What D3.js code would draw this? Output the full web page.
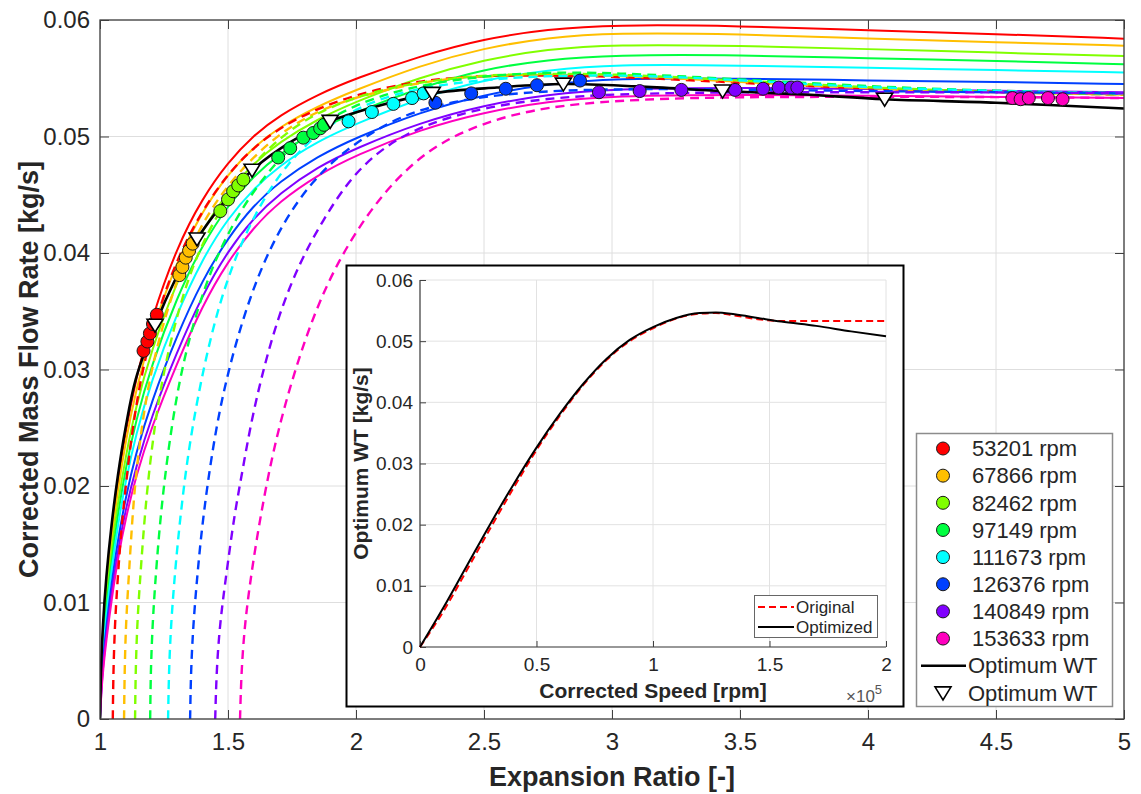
<!DOCTYPE html>
<html><head><meta charset="utf-8">
<script src="https://cdn.jsdelivr.net/npm/d3@7"></script>
<style>
html,body{margin:0;padding:0;background:#fff;}
svg{display:block;font-family:"Liberation Sans",Arial,Helvetica,sans-serif;}
</style>
</head><body>
<svg id="chart" width="1141" height="794"></svg>
<script>
// ---------------- DATA ----------------
const speedLabels = ["53201 rpm","67866 rpm","82462 rpm","97149 rpm","111673 rpm","126376 rpm","140849 rpm","153633 rpm"];

// fitted (solid) curves on a shared expansion-ratio grid
const fitX = [1,1.005,1.012,1.025,1.045,1.07,1.1,1.14,1.2,1.3,1.4,1.5,1.6,1.7,1.85,2,2.25,2.5,2.75,3,3.5,4,4.5,5];
const fit53201  = [0,.0045,.0078,.0118,.0162,.0205,.0247,.0292,.0343,.0405,.0447,.0478,.0501,.0518,.0536,.0550,.0569,.0584,.0592,.0596,.0595,.0591,.0588,.0584];
const fit67866  = [0,.0042,.0074,.0112,.0155,.0197,.0238,.0282,.0332,.0393,.0436,.0468,.0491,.0508,.0526,.0540,.0561,.0576,.0585,.0589,.0588,.0584,.0581,.0578];
const fit82462  = [0,.0038,.0068,.0104,.0145,.0186,.0225,.0268,.0316,.0376,.0420,.0453,.0477,.0495,.0515,.0530,.0551,.0566,.0575,.0579,.0578,.0575,.0572,.0569];
const fit97149  = [0,.0035,.0062,.0097,.0136,.0176,.0215,.0256,.0303,.0362,.0407,.0441,.0466,.0485,.0506,.0521,.0542,.0558,.0566,.0570,.0570,.0567,.0565,.0562];
const fit111673 = [0,.0032,.0058,.0090,.0128,.0167,.0204,.0244,.0290,.0348,.0395,.0430,.0455,.0475,.0496,.0511,.0533,.0549,.0557,.0562,.0561,.0559,.0557,.0555];
const fit126376 = [0,.0028,.0051,.0080,.0116,.0154,.0190,.0228,.0272,.0329,.0377,.0413,.0441,.0461,.0483,.0499,.0521,.0536,.0545,.0550,.0550,.0548,.0547,.0545];
const fit140849 = [0,.0024,.0046,.0073,.0108,.0145,.0180,.0216,.0259,.0315,.0364,.0402,.0430,.0451,.0474,.0490,.0512,.0527,.0536,.0541,.0542,.0541,.0539,.0538];
const fit153633 = [0,.0022,.0042,.0068,.0102,.0138,.0172,.0208,.0250,.0305,.0355,.0393,.0422,.0444,.0467,.0484,.0506,.0521,.0530,.0535,.0536,.0535,.0534,.0533];

// original (dashed) curves [expansion ratio, mass flow]
const orig53201 = [[1.05,0],[1.052,.004],[1.058,.008],[1.066,.011],[1.08,.0155],[1.1,.02],[1.13,.0255],[1.17,.0305],[1.22,.0345],[1.3,.0395],[1.4,.0437],[1.5,.0468],[1.6,.0491],[1.75,.0515],[2,.0537],[2.25,.0548],[2.5,.0553],[3,.0552],[3.5,.0546],[4,.0541],[4.5,.0538],[5,.0536]];
const orig67866 = [[1.094,0],[1.096,.004],[1.101,.008],[1.109,.011],[1.12,.015],[1.135,.02],[1.165,.0255],[1.2,.03],[1.26,.035],[1.33,.0395],[1.43,.0438],[1.55,.0472],[1.7,.0503],[1.85,.0522],[2,.0534],[2.25,.0547],[2.5,.0553],[3,.0553],[3.5,.0547],[4,.0541],[4.5,.0538],[5,.0536]];
const orig82462 = [[1.137,0],[1.139,.004],[1.145,.008],[1.155,.0115],[1.168,.0155],[1.185,.02],[1.215,.0255],[1.25,.03],[1.31,.0355],[1.38,.04],[1.48,.0442],[1.6,.0478],[1.75,.0508],[1.9,.0526],[2.1,.0541],[2.35,.055],[2.6,.0554],[3,.0554],[3.5,.0548],[4,.0542],[4.5,.0538],[5,.0536]];
const orig97149 = [[1.196,0],[1.198,.004],[1.205,.008],[1.215,.0115],[1.23,.0158],[1.25,.0202],[1.28,.0252],[1.32,.0302],[1.38,.0352],[1.45,.0395],[1.55,.0438],[1.68,.0477],[1.82,.0506],[2,.0528],[2.2,.0542],[2.45,.0551],[2.7,.0555],[3,.0555],[3.5,.0549],[4,.0543],[4.5,.0539],[5,.0537]];
const orig111673 = [[1.266,0],[1.269,.004],[1.277,.008],[1.29,.0118],[1.305,.0155],[1.33,.0205],[1.36,.025],[1.405,.0302],[1.46,.0352],[1.53,.0398],[1.62,.044],[1.73,.0477],[1.87,.0507],[2.05,.053],[2.25,.0542],[2.5,.0549],[2.8,.0553],[3.2,.0552],[3.6,.0547],[4,.0542],[4.5,.0539],[5,.0537]];
const orig126376 = [[1.352,0],[1.355,.004],[1.364,.008],[1.378,.0118],[1.395,.0158],[1.42,.0202],[1.455,.0252],[1.5,.0298],[1.56,.0345],[1.63,.0388],[1.72,.0428],[1.83,.0462],[1.95,.0487],[2.1,.0509],[2.25,.0524],[2.5,.0535],[2.8,.054],[3.2,.0541],[3.6,.054],[4,.0539],[4.5,.0538],[5,.0537]];
const orig140849 = [[1.45,0],[1.455,.004],[1.466,.0075],[1.48,.0102],[1.5,.0135],[1.525,.0175],[1.55,.0205],[1.59,.0255],[1.64,.0302],[1.7,.0348],[1.78,.0392],[1.87,.0428],[1.97,.0462],[2.08,.0486],[2.2,.0503],[2.35,.0516],[2.55,.0527],[2.8,.0534],[3.1,.0537],[3.5,.0538],[4,.0538],[4.5,.0538],[5,.0537]];
const orig153633 = [[1.547,0],[1.552,.004],[1.565,.008],[1.585,.0115],[1.61,.0152],[1.65,.0202],[1.7,.0252],[1.765,.0302],[1.84,.035],[1.93,.0393],[2.04,.0432],[2.15,.0462],[2.27,.0486],[2.41,.0504],[2.59,.0518],[2.8,.0527],[3.1,.0532],[3.5,.0534],[4,.0534],[4.5,.0534],[5,.0533]];

// measured points
const pts53201  = [[1.17,.0316],[1.185,.0324],[1.195,.0331],[1.207,.0339],[1.222,.0347]];
const pts67866  = [[1.31,.0381],[1.322,.0388],[1.335,.0396],[1.348,.0402],[1.362,.0408]];
const pts82462  = [[1.47,.0436],[1.5,.0446],[1.52,.0453],[1.54,.0458],[1.56,.0463]];
const pts97149  = [[1.696,.0482],[1.743,.0490],[1.794,.0499],[1.833,.0503],[1.86,.0507],[1.875,.0510]];
const pts111673 = [[1.971,.0513],[2.062,.0521],[2.146,.0528],[2.219,.0533],[2.264,.0537]];
const pts126376 = [[2.31,.0529],[2.45,.0537],[2.585,.0541],[2.707,.0544],[2.875,.0548]];
const pts140849 = [[2.949,.0538],[3.108,.0539],[3.271,.0540],[3.481,.0540],[3.59,.0541],[3.651,.0542],[3.70,.0542],[3.724,.0542]];
const pts153633 = [[4.564,.0533],[4.596,.0532],[4.628,.0533],[4.703,.0533],[4.76,.0532]];

// optimum WT line and markers
const optimumLine = [[1,0],[1.005,.0048],[1.012,.0082],[1.025,.0122],[1.045,.0166],[1.07,.0209],[1.1,.0250],[1.14,.0292],[1.215,.0338],[1.3,.0380],[1.379,.0412],[1.5,.0448],[1.594,.0471],[1.75,.0496],[1.899,.0513],[2.1,.0527],[2.298,.0537],[2.55,.0542],[2.81,.0545],[3.1,.0543],[3.432,.0539],[3.75,.0536],[4.065,.0532],[4.5,.0529],[5,.0524]];
const optimumMarkers = [[1.215,.0338],[1.379,.0412],[1.594,.0471],[1.899,.0513],[2.298,.0537],[2.81,.0545],[3.432,.0539],[4.065,.0532]];

// inset: optimum WT vs corrected speed (x in 1e5 rpm)
const insetOriginal  = [[0,0],[0.1,.0058],[0.2,.0125],[0.3,.0193],[0.4,.0259],[0.5,.0322],[0.6,.0378],[0.7,.0428],[0.8,.0469],[0.9,.0500],[1.0,.0521],[1.1,.0537],[1.2,.0545],[1.27,.0546],[1.35,.0542],[1.45,.0536],[1.55,.0533],[1.65,.0533],[2.0,.0533]];
const insetOptimized = [[0,0],[0.1,.0064],[0.2,.0132],[0.3,.0200],[0.4,.0265],[0.5,.0326],[0.6,.0381],[0.7,.0430],[0.8,.0471],[0.9,.0502],[1.0,.0523],[1.1,.0538],[1.2,.0546],[1.27,.0547],[1.35,.0544],[1.45,.0538],[1.55,.0532],[1.7,.0525],[1.85,.0516],[2.0,.0508]];

// ticks
const xTicks = [1,1.5,2,2.5,3,3.5,4,4.5,5];
const xTickLabels = ["1","1.5","2","2.5","3","3.5","4","4.5","5"];
const yTicks = [0,0.01,0.02,0.03,0.04,0.05,0.06];
const yTickLabels = ["0","0.01","0.02","0.03","0.04","0.05","0.06"];
const ixTicks = [0,0.5,1,1.5,2];
const ixTickLabels = ["0","0.5","1","1.5","2"];

// styles
const colors = ["#ff0000","#ffbf00","#80ff00","#00ff40","#00ffff","#0040ff","#8000ff","#ff00bf"];

// ---------------- DRAW ----------------
const fits = [fit53201,fit67866,fit82462,fit97149,fit111673,fit126376,fit140849,fit153633];
const origs = [orig53201,orig67866,orig82462,orig97149,orig111673,orig126376,orig140849,orig153633];
const pts = [pts53201,pts67866,pts82462,pts97149,pts111673,pts126376,pts140849,pts153633];

const svg = d3.select("#chart");
const TXT = "#262626";
const L=100,T=20,R=1124,B=719;
const x = d3.scaleLinear().domain([1,5]).range([L,R]);
const y = d3.scaleLinear().domain([0,0.06]).range([B,T]);

svg.append("rect").attr("width",1141).attr("height",794).attr("fill","#fff");
svg.append("defs").append("clipPath").attr("id","clipMain")
  .append("rect").attr("x",L).attr("y",T).attr("width",R-L).attr("height",B-T);

// grid
const grid = svg.append("g").attr("stroke","#dedede").attr("stroke-width",1);
xTicks.forEach(t=>grid.append("line").attr("x1",x(t)).attr("x2",x(t)).attr("y1",T).attr("y2",B));
yTicks.forEach(t=>grid.append("line").attr("x1",L).attr("x2",R).attr("y1",y(t)).attr("y2",y(t)));

function styleAxis(g,fs){
  g.select(".domain").remove();
  g.selectAll(".tick line").attr("stroke","#404040").attr("stroke-width",1);
  g.selectAll(".tick text").attr("fill",TXT).attr("font-size",fs).attr("font-family",'"Liberation Sans",Arial,sans-serif');
}
styleAxis(svg.append("g").attr("transform",`translate(0,${B})`)
  .call(d3.axisBottom(x).tickValues(xTicks).tickFormat((d,i)=>xTickLabels[i]).tickSize(-9).tickPadding(14)),24);
styleAxis(svg.append("g").attr("transform",`translate(0,${T})`)
  .call(d3.axisTop(x).tickValues(xTicks).tickFormat("").tickSize(-9)),24);
styleAxis(svg.append("g").attr("transform",`translate(${L},0)`)
  .call(d3.axisLeft(y).tickValues(yTicks).tickFormat((d,i)=>yTickLabels[i]).tickSize(-9).tickPadding(10)),24);
styleAxis(svg.append("g").attr("transform",`translate(${R},0)`)
  .call(d3.axisRight(y).tickValues(yTicks).tickFormat("").tickSize(-9)),24);

const plot = svg.append("g").attr("clip-path","url(#clipMain)");
const lineSmooth = d3.line().x(d=>x(d[0])).y(d=>y(d[1])).curve(d3.curveBasis);
const lineThrough = d3.line().x(d=>x(d[0])).y(d=>y(d[1])).curve(d3.curveCatmullRom.alpha(0.5));

// solid fits
fits.forEach((arr,i)=>{
  const data = fitX.map((v,k)=>[v,arr[k]]);
  plot.append("path").attr("d",lineSmooth(data)).attr("fill","none")
    .attr("stroke",colors[i]).attr("stroke-width",2);
});
// dashed originals
origs.forEach((arr,i)=>{
  plot.append("path").attr("d",lineSmooth(arr)).attr("fill","none")
    .attr("stroke",colors[i]).attr("stroke-width",2.4).attr("stroke-dasharray","9,6");
});
// optimum line
plot.append("path").attr("d",lineThrough(optimumLine)).attr("fill","none")
  .attr("stroke","#000").attr("stroke-width",2.6);
// points
pts.forEach((arr,i)=>{
  plot.selectAll(null).data(arr).enter().append("circle")
    .attr("cx",d=>x(d[0])).attr("cy",d=>y(d[1])).attr("r",6.5)
    .attr("fill",colors[i]).attr("stroke","#1a1a1a").attr("stroke-width",1);
});
const triPath = "M-8,-6L8,-6L0,7Z";
plot.selectAll(null).data(optimumMarkers).enter().append("path")
  .attr("d",triPath).attr("transform",d=>`translate(${x(d[0])},${y(d[1])})`)
  .attr("fill","#fff").attr("stroke","#000").attr("stroke-width",1.6);

// box
svg.append("rect").attr("x",L).attr("y",T).attr("width",R-L).attr("height",B-T)
  .attr("fill","none").attr("stroke","#404040").attr("stroke-width",1.3);

// axis titles
svg.append("text").attr("x",(L+R)/2).attr("y",786).attr("text-anchor","middle")
  .attr("font-size",27).attr("font-weight","bold").attr("fill",TXT).text("Expansion Ratio [-]");
svg.append("text").attr("transform",`translate(38,${(T+B)/2}) rotate(-90)`).attr("text-anchor","middle")
  .attr("font-size",27).attr("font-weight","bold").attr("fill",TXT).text("Corrected Mass Flow Rate [kg/s]");

// ---------------- INSET ----------------
svg.append("rect").attr("x",346.5).attr("y",265.5).attr("width",557).attr("height",441)
  .attr("fill","#fff").attr("stroke","#000").attr("stroke-width",2);
const iL=420,iR=886,iT=280,iB=647;
const ix = d3.scaleLinear().domain([0,2]).range([iL,iR]);
const iy = d3.scaleLinear().domain([0,0.06]).range([iB,iT]);
const ig = svg.append("g").attr("stroke","#e2e2e2").attr("stroke-width",1);
ixTicks.forEach(t=>ig.append("line").attr("x1",ix(t)).attr("x2",ix(t)).attr("y1",iT).attr("y2",iB));
yTicks.forEach(t=>ig.append("line").attr("x1",iL).attr("x2",iR).attr("y1",iy(t)).attr("y2",iy(t)));
styleAxis(svg.append("g").attr("transform",`translate(0,${iB})`)
  .call(d3.axisBottom(ix).tickValues(ixTicks).tickFormat((d,i)=>ixTickLabels[i]).tickSize(-6).tickPadding(11)),19);
styleAxis(svg.append("g").attr("transform",`translate(${iL},0)`)
  .call(d3.axisLeft(iy).tickValues(yTicks).tickFormat((d,i)=>yTickLabels[i]).tickSize(-6).tickPadding(7)),19);
svg.append("line").attr("x1",iL).attr("x2",iR).attr("y1",iB).attr("y2",iB).attr("stroke","#404040").attr("stroke-width",1.2);
svg.append("line").attr("x1",iL).attr("x2",iL).attr("y1",iT).attr("y2",iB).attr("stroke","#404040").attr("stroke-width",1.2);

const iline = d3.line().x(d=>ix(d[0])).y(d=>iy(d[1])).curve(d3.curveMonotoneX);
svg.append("path").attr("d",iline(insetOriginal)).attr("fill","none")
  .attr("stroke","#ff0000").attr("stroke-width",2).attr("stroke-dasharray","7,4");
svg.append("path").attr("d",iline(insetOptimized)).attr("fill","none")
  .attr("stroke","#000").attr("stroke-width",2);

svg.append("text").attr("x",(iL+iR)/2).attr("y",698).attr("text-anchor","middle")
  .attr("font-size",21).attr("font-weight","bold").attr("fill",TXT).text("Corrected Speed [rpm]");
svg.append("text").attr("transform",`translate(368,${(iT+iB)/2}) rotate(-90)`).attr("text-anchor","middle")
  .attr("font-size",21).attr("font-weight","bold").attr("fill",TXT).text("Optimum WT [kg/s]");
const xe = svg.append("text").attr("x",846).attr("y",702).attr("font-size",17).attr("fill","#555");
xe.append("tspan").text("\u00d710");
xe.append("tspan").attr("dy",-8).attr("font-size",13).text("5");

// inset legend
svg.append("rect").attr("x",754.5).attr("y",595.5).attr("width",123).attr("height",42)
  .attr("fill","#fff").attr("stroke","#666").attr("stroke-width",1);
svg.append("line").attr("x1",758).attr("x2",794).attr("y1",607).attr("y2",607)
  .attr("stroke","#ff0000").attr("stroke-width",2).attr("stroke-dasharray","7,4");
svg.append("line").attr("x1",758).attr("x2",794).attr("y1",627).attr("y2",627)
  .attr("stroke","#000").attr("stroke-width",2);
svg.append("text").attr("x",796).attr("y",607).attr("dy","0.35em").attr("font-size",17).attr("fill",TXT).text("Original");
svg.append("text").attr("x",796).attr("y",627).attr("dy","0.35em").attr("font-size",17).attr("fill",TXT).text("Optimized");

// ---------------- MAIN LEGEND ----------------
const lg = svg.append("g");
lg.append("rect").attr("x",916.5).attr("y",433.5).attr("width",196).attr("height",273)
  .attr("fill","#fff").attr("stroke","#8c8c8c").attr("stroke-width",1.5);
const rowY = i => 448.5 + i*27.15;
speedLabels.forEach((s,i)=>{
  lg.append("circle").attr("cx",943).attr("cy",rowY(i)).attr("r",6.5)
    .attr("fill",colors[i]).attr("stroke","#1a1a1a").attr("stroke-width",1);
  lg.append("text").attr("x",972).attr("y",rowY(i)).attr("dy","0.35em")
    .attr("font-size",22).attr("fill",TXT).text(s);
});
lg.append("line").attr("x1",921).attr("x2",966).attr("y1",rowY(8)).attr("y2",rowY(8))
  .attr("stroke","#000").attr("stroke-width",2.6);
lg.append("text").attr("x",968).attr("y",rowY(8)).attr("dy","0.35em").attr("font-size",22).attr("fill",TXT).text("Optimum WT");
lg.append("path").attr("d",triPath).attr("transform",`translate(943,${rowY(9)})`)
  .attr("fill","#fff").attr("stroke","#000").attr("stroke-width",1.6);
lg.append("text").attr("x",968).attr("y",rowY(9)).attr("dy","0.35em").attr("font-size",22).attr("fill",TXT).text("Optimum WT");
</script>
</body></html>
